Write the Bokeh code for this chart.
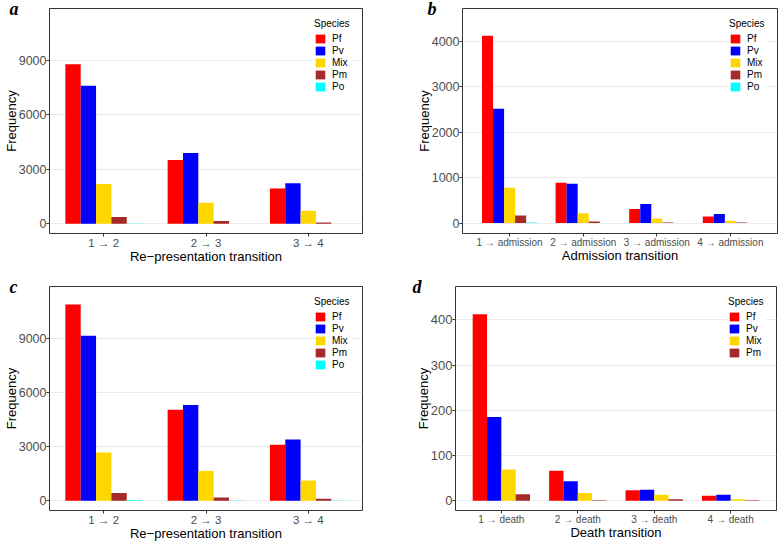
from bokeh.plotting import figure
from bokeh.models import (FactorRange, Range1d, FixedTicker, Legend, LegendItem, ColumnDataSource, Title)
from bokeh.transform import dodge
from bokeh.layouts import row, column
from bokeh.embed import file_html
from bokeh.resources import INLINE

# ---------------- data ----------------
species5 = ["Pf", "Pv", "Mix", "Pm", "Po"]
species4 = ["Pf", "Pv", "Mix", "Pm"]
colors = {"Pf": "#FF0000", "Pv": "#0000FF", "Mix": "#FFD700", "Pm": "#A52A2A", "Po": "#00FFFF"}

rep_transitions = ["1 → 2", "2 → 3", "3 → 4"]
adm_transitions = ["1 → admission", "2 → admission", "3 → admission", "4 → admission"]
death_transitions = ["1 → death", "2 → death", "3 → death", "4 → death"]

# panel a
a_pf = [8780, 3520, 1940]
a_pv = [7600, 3900, 2230]
a_mix = [2200, 1160, 720]
a_pm = [380, 160, 70]
a_po = [25, 12, 5]
a_yticks = [0, 3000, 6000, 9000]

# panel b
b_pf = [4130, 890, 310, 145]
b_pv = [2520, 870, 420, 200]
b_mix = [780, 215, 100, 50]
b_pm = [170, 35, 15, 12]
b_po = [12, 3, 1, 1]
b_yticks = [0, 1000, 2000, 3000, 4000]

# panel c
c_pf = [10850, 5030, 3090]
c_pv = [9130, 5300, 3380]
c_mix = [2670, 1640, 1120]
c_pm = [420, 180, 105]
c_po = [30, 15, 5]
c_yticks = [0, 3000, 6000, 9000]

# panel d
d_pf = [412, 66, 23, 11]
d_pv = [185, 43, 24, 13]
d_mix = [69, 17, 13, 3]
d_pm = [14, 1, 3, 1]
d_yticks = [0, 100, 200, 300, 400]

FONT = "Liberation Sans"


def make_panel(letter, cats, vals, species, xlabel, yticks, ylim, size, borders,
               xpad, xtick_size, ytick_size, letter_offset):
    width, height = size
    mbl, mbr, mbt, mbb = borders
    data = {"cat": cats}
    data.update(vals)
    src = ColumnDataSource(data)
    p = figure(x_range=FactorRange(factors=cats, range_padding=xpad, range_padding_units="absolute"),
               y_range=Range1d(ylim[0], ylim[1]),
               width=width, height=height,
               min_border_left=mbl, min_border_right=mbr, min_border_top=mbt, min_border_bottom=mbb,
               output_backend="svg", toolbar_location=None)
    n = len(species)
    bw = 0.75 / n
    items = []
    for i, s in enumerate(species):
        off = (i - (n - 1) / 2) * bw
        r = p.vbar(x=dodge("cat", off, range=p.x_range), top=s, bottom=0, width=bw, source=src,
                   fill_color=colors[s], line_color=None)
        items.append(LegendItem(label=s, renderers=[r]))

    p.background_fill_color = "white"
    p.border_fill_color = "white"
    p.outline_line_color = "#333333"
    p.outline_line_width = 1
    p.xgrid.visible = False
    p.ygrid.grid_line_color = "#EBEBEB"
    p.ygrid.grid_line_width = 1
    p.yaxis.ticker = FixedTicker(ticks=yticks)

    for ax in (p.xaxis[0], p.yaxis[0]):
        ax.axis_line_color = None
        ax.major_tick_line_color = "#333333"
        ax.major_tick_out = 3
        ax.major_tick_in = 0
        ax.minor_tick_line_color = None
        ax.major_label_text_color = "#4D4D4D"
        ax.major_label_text_font = FONT
        ax.axis_label_text_font = FONT
        ax.axis_label_text_font_style = "normal"
        ax.axis_label_text_color = "black"
        ax.axis_label_text_font_size = "13px"
        ax.major_label_standoff = 0
    p.xaxis.axis_label_standoff = -3
    p.yaxis.axis_label_standoff = -3
    p.xaxis.major_label_text_font_size = xtick_size
    p.yaxis.major_label_text_font_size = ytick_size
    p.xaxis.axis_label = xlabel
    p.yaxis.axis_label = "Frequency"

    legend = Legend(items=items, title="Species", location="top_right", margin=10,
                    padding=4, spacing=1, glyph_width=12, glyph_height=11, label_height=11,
                    label_standoff=6, title_standoff=4,
                    label_text_font=FONT, label_text_font_size="10px", label_text_color="black",
                    title_text_font=FONT, title_text_font_size="10px", title_text_color="black",
                    title_text_font_style="normal",
                    border_line_color=None, background_fill_color="white", background_fill_alpha=1)
    p.add_layout(legend)

    # panel letter: a title pulled down beside the top-left corner of the frame
    t = Title(text=letter, align="left", vertical_align="bottom", offset=letter_offset, standoff=-21,
              text_font="Liberation Serif", text_font_style="bold italic", text_font_size="18px",
              text_color="black")
    p.add_layout(t, "above")
    return p


pa = make_panel("a", rep_transitions,
                {"Pf": a_pf, "Pv": a_pv, "Mix": a_mix, "Pm": a_pm, "Po": a_po}, species5,
                "Re−presentation transition", a_yticks, (-530, 11850),
                (389, 270), (47, 27, 8, 35), 0.03, "11.5px", "12.5px", -40)
pb = make_panel("b", adm_transitions,
                {"Pf": b_pf, "Pv": b_pv, "Mix": b_mix, "Pm": b_pm, "Po": b_po}, species5,
                "Admission transition", b_yticks, (-229, 4729),
                (389, 270), (73, 1, 4, 37), 0.14, "10px", "12.5px", -35)
pc = make_panel("c", rep_transitions,
                {"Pf": c_pf, "Pv": c_pv, "Mix": c_mix, "Pm": c_pm, "Po": c_po}, species5,
                "Re−presentation transition", c_yticks, (-545, 11853),
                (389, 273), (47, 27, 16, 30), 0.03, "11.5px", "12.5px", -40)
pd_ = make_panel("d", death_transitions,
                 {"Pf": d_pf, "Pv": d_pv, "Mix": d_mix, "Pm": d_pm}, species4,
                 "Death transition", d_yticks, (-21.7, 473.6),
                 (389, 273), (66, 2, 13, 32), 0.1, "10px", "13px", -43)

layout = column(row(pa, pb), row(pc, pd_))

open("out.html", "w").write(file_html(layout, INLINE))
